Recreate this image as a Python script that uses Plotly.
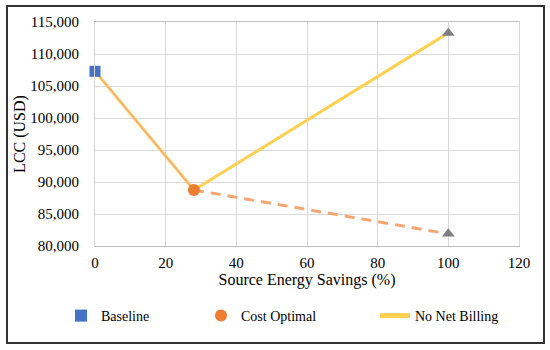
import plotly.graph_objects as go

# Data
baseline_x = [0]
baseline_y = [107300]
cost_opt_x = [28]
cost_opt_y = [88750]
no_net_x = [0, 28, 100]
no_net_y = [107300, 88750, 113300]
net_solid_x = [0, 28]
net_solid_y = [107300, 88750]
net_dash_x = [28, 100]
net_dash_y = [88750, 81900]
zero_x = [100, 100]
zero_y = [113300, 81900]
x_ticks = [0, 20, 40, 60, 80, 100, 120]
y_ticks = [80000, 85000, 90000, 95000, 100000, 105000, 110000, 115000]

FONT = "Liberation Serif, Times New Roman, serif"
W, H = 550, 350
L, R, T, B = 95, 31, 22, 104
pw, ph = W - L - R, H - T - B

fig = go.Figure()
fig.add_trace(go.Scatter(x=no_net_x, y=no_net_y, mode="lines", name="No Net Billing",
                         line=dict(color="#FFD050", width=3), legend="legend3", cliponaxis=False))
fig.add_trace(go.Scatter(x=net_solid_x, y=net_solid_y, mode="lines", showlegend=False,
                         line=dict(color="#F2AE80", width=1.5), cliponaxis=False))
fig.add_trace(go.Scatter(x=net_dash_x, y=net_dash_y, mode="lines", showlegend=False,
                         line=dict(color="#F5A672", width=3, dash="10px,7px"), cliponaxis=False))
fig.add_trace(go.Scatter(x=zero_x, y=zero_y, mode="markers", showlegend=False,
                         marker=dict(symbol="triangle-up", size=11, color="#7F7F7F"), cliponaxis=False))
fig.add_trace(go.Scatter(x=baseline_x, y=baseline_y, mode="markers", name="Baseline",
                         marker=dict(symbol="square", size=11, color="#4472C4"), legend="legend",
                         cliponaxis=False))
fig.add_trace(go.Scatter(x=cost_opt_x, y=cost_opt_y, mode="markers", name="Cost Optimal",
                         marker=dict(symbol="circle", size=12, color="#ED7D31"), legend="legend2",
                         cliponaxis=False))

def px2paper_x(px):
    return (px - L) / pw

def py2paper_y(py):
    return (H - B - py) / ph

fig.add_shape(type="rect", xref="paper", yref="paper",
              x0=px2paper_x(7), x1=px2paper_x(544), y0=py2paper_y(343), y1=py2paper_y(6),
              line=dict(color="#333333", width=2), fillcolor="rgba(0,0,0,0)", layer="above")

leg_common = dict(orientation="h", xref="container", yref="container", yanchor="middle",
                  xanchor="left", font=dict(family=FONT, size=14, color="#000000"),
                  bgcolor="rgba(0,0,0,0)", itemsizing="constant")
ly = 1 - 316 / H

fig.update_layout(
    width=W, height=H,
    margin=dict(l=L, r=R, t=T, b=B),
    paper_bgcolor="white", plot_bgcolor="white",
    font=dict(family=FONT, size=15, color="#000000"),
    xaxis=dict(range=[0, 120], tickvals=x_ticks, showgrid=True, gridcolor="#D9D9D9", gridwidth=1,
               showline=True, linecolor="#BFBFBF", mirror=True, zeroline=False, ticks="",
               ticklabelstandoff=3, automargin=False, tickfont=dict(size=15),
               title=dict(text="Source Energy Savings (%)", font=dict(family=FONT, size=16), standoff=0)),
    yaxis=dict(range=[80000, 115000], tickvals=y_ticks, tickformat=",", showgrid=True,
               gridcolor="#D9D9D9", gridwidth=1, showline=True, linecolor="#D9D9D9", mirror=True,
               zeroline=False, ticks="", ticklabelstandoff=12, automargin=False, tickfont=dict(size=15),
               title=dict(text="LCC (USD)", font=dict(family=FONT, size=16), standoff=0)),
    legend=dict(x=61 / W, y=ly, **leg_common),
    legend2=dict(x=201 / W, y=ly, **leg_common),
    legend3=dict(x=375 / W, y=ly, **leg_common),
)

fig.write_html("out.html", config={"displayModeBar": False},
               post_script="document.body.style.margin='0';document.body.style.padding='0';")
